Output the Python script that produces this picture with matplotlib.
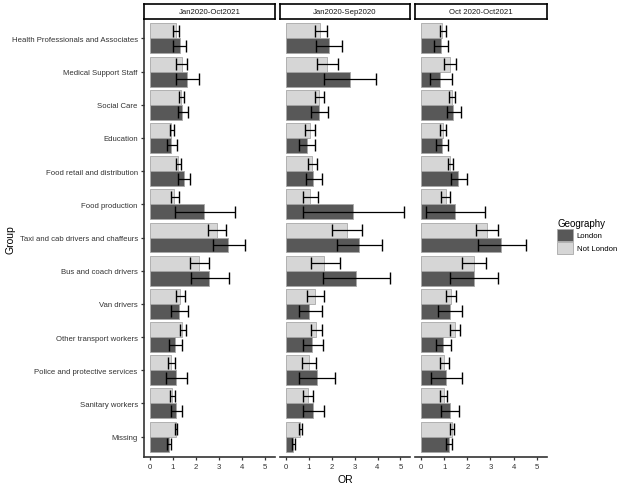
import matplotlib
matplotlib.use("Agg")
import matplotlib.pyplot as plt
import numpy as np
from matplotlib.patches import Patch

plt.rcParams['font.family'] = ['Liberation Sans', 'DejaVu Sans']

groups = ["Health Professionals and Associates", "Medical Support Staff", "Social Care",
          "Education", "Food retail and distribution", "Food production",
          "Taxi and cab drivers and chaffeurs", "Bus and coach drivers", "Van drivers",
          "Other transport workers", "Police and protective services", "Sanitary workers",
          "Missing"]

periods = ["Jan2020-Oct2021", "Jan2020-Sep2020", "Oct 2020-Oct2021"]

# Panel 1: Jan2020-Oct2021
p1_london = [1.30, 1.62, 1.41, 0.92, 1.46, 2.35, 3.39, 2.57, 1.24, 1.10, 1.14, 1.11, 0.82]
p1_london_lo = [1.01, 1.15, 1.20, 0.74, 1.23, 1.07, 2.71, 1.76, 0.90, 0.82, 0.68, 0.90, 0.74]
p1_london_hi = [1.56, 2.13, 1.67, 1.17, 1.75, 3.68, 4.13, 3.41, 1.65, 1.37, 1.62, 1.39, 0.91]
p1_notlondon = [1.11, 1.37, 1.36, 0.92, 1.23, 1.05, 2.89, 2.14, 1.31, 1.41, 0.92, 0.97, 1.13]
p1_notlondon_lo = [1.00, 1.15, 1.26, 0.87, 1.14, 0.90, 2.53, 1.75, 1.15, 1.30, 0.77, 0.88, 1.08]
p1_notlondon_hi = [1.26, 1.59, 1.49, 1.04, 1.33, 1.24, 3.29, 2.55, 1.52, 1.55, 1.07, 1.07, 1.18]

# Panel 2: Jan2020-Sep2020
p2_london = [1.88, 2.80, 1.45, 0.91, 1.19, 2.93, 3.19, 3.06, 1.03, 1.16, 1.34, 1.19, 0.32]
p2_london_lo = [1.32, 1.65, 1.09, 0.57, 0.88, 0.73, 2.23, 1.61, 0.55, 0.75, 0.55, 0.76, 0.27]
p2_london_hi = [2.46, 3.95, 1.85, 1.26, 1.57, 5.16, 4.21, 4.53, 1.57, 1.64, 2.13, 1.65, 0.40]
p2_notlondon = [1.48, 1.80, 1.45, 1.05, 1.16, 1.05, 2.66, 1.68, 1.26, 1.31, 0.99, 0.96, 0.62]
p2_notlondon_lo = [1.26, 1.36, 1.28, 0.83, 0.96, 0.75, 2.01, 1.08, 0.91, 1.09, 0.69, 0.76, 0.59]
p2_notlondon_hi = [1.80, 2.26, 1.68, 1.26, 1.35, 1.38, 3.32, 2.34, 1.67, 1.57, 1.31, 1.19, 0.72]

# Panel 3: Oct 2020-Oct2021
p3_london = [0.85, 0.81, 1.40, 0.90, 1.60, 1.47, 3.44, 2.27, 1.24, 0.97, 1.07, 1.24, 1.20]
p3_london_lo = [0.58, 0.39, 1.13, 0.65, 1.30, 0.20, 2.46, 1.24, 0.72, 0.64, 0.43, 0.87, 1.07]
p3_london_hi = [1.16, 1.33, 1.72, 1.17, 1.99, 2.75, 4.52, 3.34, 1.76, 1.31, 1.75, 1.66, 1.36]
p3_notlondon = [0.91, 1.26, 1.34, 0.95, 1.24, 1.08, 2.85, 2.28, 1.30, 1.46, 1.00, 0.98, 1.34]
p3_notlondon_lo = [0.82, 1.01, 1.23, 0.84, 1.17, 0.88, 2.38, 1.76, 1.07, 1.27, 0.81, 0.82, 1.27]
p3_notlondon_hi = [1.08, 1.50, 1.45, 1.10, 1.39, 1.27, 3.32, 2.82, 1.50, 1.68, 1.20, 1.13, 1.43]

panels = [
    (p1_london, p1_london_lo, p1_london_hi, p1_notlondon, p1_notlondon_lo, p1_notlondon_hi),
    (p2_london, p2_london_lo, p2_london_hi, p2_notlondon, p2_notlondon_lo, p2_notlondon_hi),
    (p3_london, p3_london_lo, p3_london_hi, p3_notlondon, p3_notlondon_lo, p3_notlondon_hi),
]

col_london = '#585858'
col_notlondon = '#D6D6D6'
edge_col = '#A8A8A8'
axis_col = '#333333'
tick_text_col = '#333333'

W, H = 626, 485
fig = plt.figure(figsize=(W / 100, H / 100), dpi=100)

panel_x = [(144, 275), (280, 410), (415, 546.5)]
top_px, bot_px = 19.5, 457.5
strip_top, strip_bot = 5, 19.5

n = len(groups)
y = np.arange(n)
bh = 0.45

xmax_all = max(max(p[2]) for p in panels)
xlim = (-0.05 * xmax_all, xmax_all * 1.05)

for k, (x0, x1) in enumerate(panel_x):
    ax = fig.add_axes([x0 / W, 1 - bot_px / H, (x1 - x0) / W, (bot_px - top_px) / H])
    lon, lon_lo, lon_hi, nl, nl_lo, nl_hi = [np.array(v) for v in panels[k]]
    ax.barh(y - bh / 2, nl, height=bh, color=col_notlondon, edgecolor=edge_col, linewidth=0.6, zorder=2)
    ax.barh(y + bh / 2, lon, height=bh, color=col_london, edgecolor=edge_col, linewidth=0.6, zorder=2)
    ax.errorbar(nl, y - bh / 2, xerr=[nl - nl_lo, nl_hi - nl], fmt='none', ecolor='black',
                elinewidth=0.9, capsize=4.0, capthick=1.0, zorder=3)
    ax.errorbar(lon, y + bh / 2, xerr=[lon - lon_lo, lon_hi - lon], fmt='none', ecolor='black',
                elinewidth=0.9, capsize=4.0, capthick=1.0, zorder=3)
    ax.set_xlim(*xlim)
    ax.set_ylim(n - 0.4, -0.6)
    ax.set_xticks([0, 1, 2, 3, 4, 5])
    ax.tick_params(axis='x', labelsize=5.6, colors=axis_col, labelcolor=tick_text_col, length=2.5, width=0.9, pad=2)
    for s in ['top', 'right']:
        ax.spines[s].set_visible(False)
    ax.spines['bottom'].set_color(axis_col)
    ax.spines['bottom'].set_linewidth(1.2)
    if k == 0:
        ax.set_yticks(y)
        ax.set_yticklabels(groups)
        ax.tick_params(axis='y', labelsize=5.6, colors=axis_col, labelcolor=tick_text_col, length=2.5, width=0.9, pad=2)
        ax.spines['left'].set_color(axis_col)
        ax.spines['left'].set_linewidth(1.2)
    else:
        ax.set_yticks([])
        ax.spines['left'].set_visible(False)
    if k == 1:
        ax.set_xlabel('OR', fontsize=7.5, labelpad=3)

    sax = fig.add_axes([x0 / W, 1 - strip_bot / H, (x1 - x0) / W, (strip_bot - strip_top) / H])
    sax.set_xticks([])
    sax.set_yticks([])
    for s in sax.spines.values():
        s.set_color('black')
        s.set_linewidth(1.2)
    sax.text(0.5, 0.45, periods[k], ha='center', va='center', fontsize=5.6, color='#1A1A1A',
             transform=sax.transAxes)

fig.text(10 / W, 1 - 240 / H, 'Group', rotation=90, ha='center', va='center', fontsize=7.5)

# Legend
handles = [Patch(facecolor=col_london, edgecolor=edge_col, linewidth=0.6, label='London'),
           Patch(facecolor=col_notlondon, edgecolor=edge_col, linewidth=0.6, label='Not London')]
leg = fig.legend(handles=handles, title='Geography', loc='upper left',
                 bbox_to_anchor=(557 / W, 1 - 219 / H), frameon=False, fontsize=5.6,
                 title_fontsize=7, handlelength=2.05, handleheight=2.05, handletextpad=0.5,
                 labelspacing=0.1, borderaxespad=0, borderpad=0, alignment='left')

fig.savefig('out.png', dpi=100)
